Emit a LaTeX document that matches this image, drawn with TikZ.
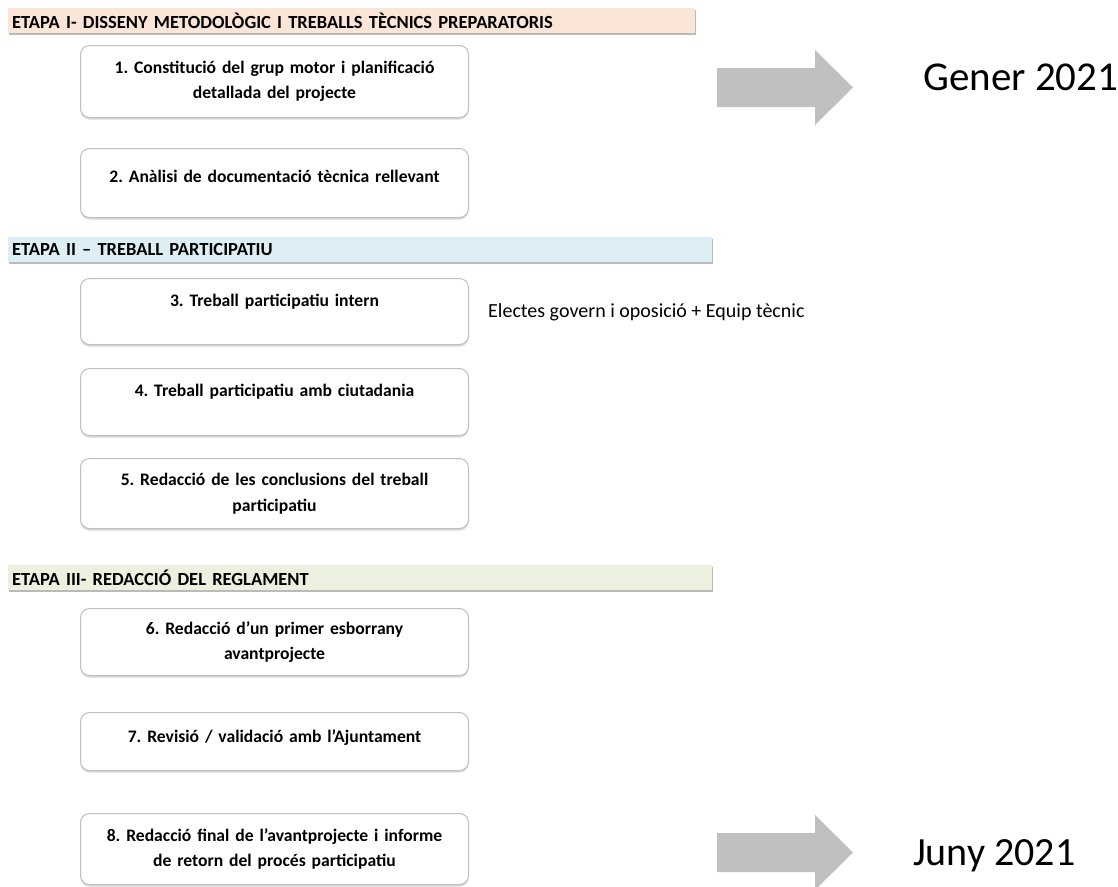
\documentclass[tikz,border=0pt]{standalone}
\usepackage{fontspec}
\setmainfont{Carlito}
\usetikzlibrary{shadows}
\definecolor{hOne}{HTML}{FBE5D6}
\definecolor{hTwo}{HTML}{DDEEF5}
\definecolor{hThree}{HTML}{EBF1DE}
\definecolor{boxline}{HTML}{BFBFBF}
\definecolor{arrowgray}{HTML}{C0C0C0}
\tikzset{
  header/.style={anchor=north west, minimum height=25pt, text width=#1, inner xsep=4pt, inner ysep=0pt,
    font=\bfseries\fontsize{18.5}{20}\selectfont, align=left,
    drop shadow={shadow xshift=1pt, shadow yshift=-2pt, fill=black!45, opacity=0.6}},
  stepbox/.style={anchor=north west, draw=boxline, line width=1pt, rounded corners=9pt, fill=white,
    minimum width=388pt, text width=380pt, align=center, inner sep=0pt,
    font=\bfseries\fontsize{17.6}{25.5}\selectfont,
    drop shadow={shadow xshift=0pt, shadow yshift=-2pt, fill=black!30, opacity=0.5}},
  lift/.style={text height=12pt, text depth=#1},
  timearrow/.style={fill=arrowgray, draw=none},
  datelabel/.style={font=\fontsize{#1}{44}\selectfont, anchor=base west, inner sep=0pt},
}
\begin{document}
\frenchspacing
\begin{tikzpicture}[x=1pt,y=-1pt]
\useasboundingbox (0,0) rectangle (1118,886);
\node[header=679pt, fill=hOne] (h1) at (8,8) {ETAPA I- DISSENY METODOLÒGIC I TREBALLS TÈCNICS PREPARATORIS};
\node[stepbox, minimum height=72pt] (b1) at (80,45) {1. Constitució del grup motor i planificació\\detallada del projecte};
\node[stepbox, minimum height=69pt, lift=13pt] (b2) at (80,148) {2. Anàlisi de documentació tècnica rellevant};
\node[header=696pt, fill=hTwo] (h2) at (8,237) {ETAPA II – TREBALL PARTICIPATIU};
\node[stepbox, minimum height=66pt, lift=22pt] (b3) at (80,278) {3. Treball participatiu intern};
\node[anchor=base west, inner sep=0pt, font=\fontsize{20}{22}\selectfont] (e3) at (488,317) {Electes govern i oposició + Equip tècnic};
\node[stepbox, minimum height=67pt, lift=24pt] (b4) at (80,368) {4. Treball participatiu amb ciutadania};
\node[stepbox, minimum height=70pt] (b5) at (80,458) {5. Redacció de les conclusions del treball\\participatiu};
\node[header=696pt, fill=hThree] (h3) at (8,565) {ETAPA III- REDACCIÓ DEL REGLAMENT};
\node[stepbox, minimum height=67pt] (b6) at (80,608) {6. Redacció d’un primer esborrany\\avantprojecte};
\node[stepbox, minimum height=58pt, lift=10pt] (b7) at (80,712) {7. Revisió / validació amb l’Ajuntament};
\node[stepbox, minimum height=71pt] (b8) at (80,813) {8. Redacció final de l’avantprojecte i informe\\de retorn del procés participatiu};
\fill[timearrow] (717,68) -- (815,68) -- (815,50) -- (853,87.5) -- (815,125) -- (815,107) -- (717,107) -- cycle;
\node[datelabel=41] (d1) at (923,90) {Gener 2021};
\fill[timearrow] (717,833) -- (815,833) -- (815,815) -- (853,852.5) -- (815,890) -- (815,872) -- (717,872) -- cycle;
\node[datelabel=40] (d2) at (913,865) {Juny 2021};
\end{tikzpicture}
\end{document}
